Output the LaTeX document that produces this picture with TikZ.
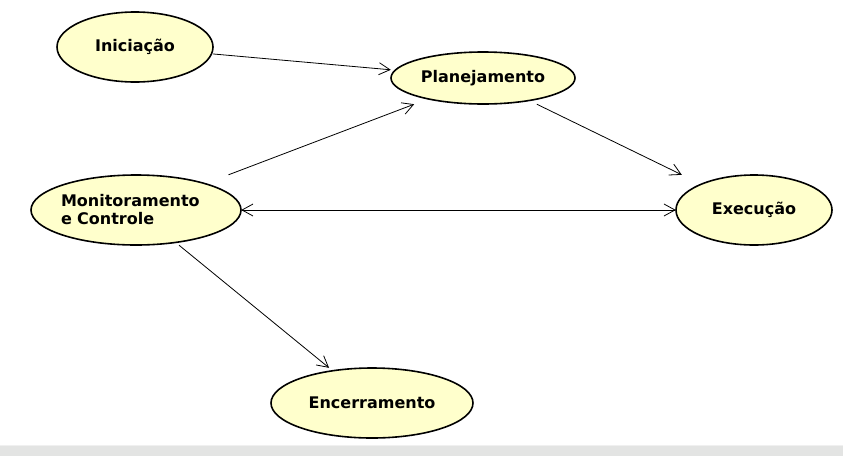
\documentclass[tikz,border=0pt]{standalone}
\usepackage{fontspec}
\setmainfont{DejaVu Sans}
\usetikzlibrary{arrows.meta,backgrounds}
\definecolor{phasefill}{HTML}{FFFFCC}
\definecolor{stripgray}{HTML}{E3E4E3}
\definecolor{stripline}{HTML}{F0F0F0}
\tikzset{
  phase/.style={rectangle, inner sep=0pt, align=left, font=\fontsize{16}{18}\selectfont\bfseries},
  phaseshape/.style={draw=black, fill=phasefill, line width=1.6pt},
  barb/.tip={Straight Barb[length=11pt,width=12pt]},
  flow/.style={-barb, line width=0.8pt},
  flowboth/.style={barb-barb, line width=0.8pt}
}
\begin{document}
\begin{tikzpicture}[x=1pt,y=-1pt]
                          \useasboundingbox (0,0) rectangle (843,456);
                          \fill[stripline] (0,445) rectangle (843,446);
                          \fill[stripgray] (0,446) rectangle (843,456);
                          \node[phase, minimum width=156pt, minimum height=70pt] (ini) at (135,47) {Iniciação};
                          \node[phase, minimum width=184pt, minimum height=52pt] (plan) at (483,78) {Planejamento};
                          \node[phase, minimum width=210pt, minimum height=70pt, text width=150pt] (mon) at (136,210) {Monitoramento\\e Controle};
                          \node[phase, minimum width=156pt, minimum height=70pt] (exec) at (754,210) {Execução};
                          \node[phase, minimum width=202pt, minimum height=70pt] (enc) at (372,403) {Encerramento};
                          \begin{scope}[on background layer]
                            \foreach \n/\rx/\ry in {ini/78/35, plan/92/26, mon/105/35, exec/78/35, enc/101/35}
                              \draw[phaseshape] (\n.center) ellipse [x radius=\rx, y radius=\ry];
                          \end{scope}
                          \draw[flow] (ini) -- (plan);
                          \draw[flow] (mon) -- (plan);
                          \draw[flow] (plan) -- (exec);
                          \draw[flowboth] (mon) -- (exec);
                          \draw[flow] (mon) -- (enc);
\end{tikzpicture}
\end{document}
